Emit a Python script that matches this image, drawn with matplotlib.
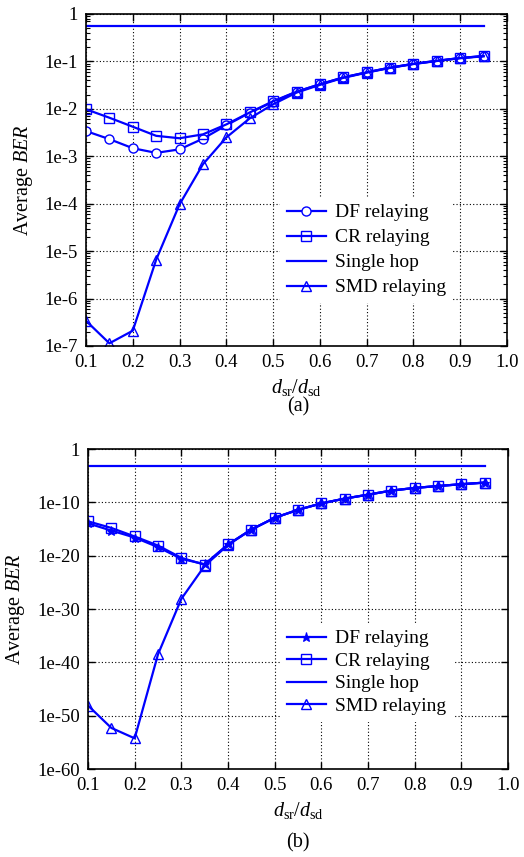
import numpy as np
import matplotlib
matplotlib.use("Agg")
import matplotlib.pyplot as plt
from matplotlib.ticker import FixedLocator, FixedFormatter, LogLocator, NullFormatter, NullLocator

plt.rcParams['font.family'] = ['Liberation Serif', 'DejaVu Serif']
plt.rcParams['mathtext.fontset'] = 'custom'
plt.rcParams['mathtext.rm'] = 'Liberation Serif'
plt.rcParams['mathtext.it'] = 'Liberation Serif:italic'

# ---------------- data ----------------
x = [0.10, 0.15, 0.20, 0.25, 0.30, 0.35, 0.40, 0.45, 0.50, 0.55,
     0.60, 0.65, 0.70, 0.75, 0.80, 0.85, 0.90, 0.95]
x_single = [0.10, 0.95]

# panel (a)
a_df = [3.4e-3, 2.3e-3, 1.48e-3, 1.18e-3, 1.4e-3, 2.35e-3, 4.5e-3, 8.3e-3, 1.4e-2, 2.3e-2,
        3.3e-2, 4.6e-2, 5.9e-2, 7.4e-2, 8.9e-2, 0.103, 0.118, 0.13]
a_cr = [9.8e-3, 6.5e-3, 4.2e-3, 2.7e-3, 2.4e-3, 2.9e-3, 4.7e-3, 8.4e-3, 1.45e-2, 2.3e-2,
        3.3e-2, 4.6e-2, 5.9e-2, 7.4e-2, 8.9e-2, 0.103, 0.118, 0.13]
a_single = [0.55, 0.55]
a_smd = [3.4e-7, 1.14e-7, 2.1e-7, 6.6e-6, 9.7e-5, 6.8e-4, 2.5e-3, 6.3e-3, 1.25e-2, 2.2e-2,
         3.2e-2, 4.5e-2, 5.8e-2, 7.3e-2, 8.8e-2, 0.102, 0.117, 0.128]
a_yticks = [1, 1e-1, 1e-2, 1e-3, 1e-4, 1e-5, 1e-6, 1e-7]
a_ylabels = ["1", "1e-1", "1e-2", "1e-3", "1e-4", "1e-5", "1e-6", "1e-7"]

# panel (b) (log10 values)
b_df_exp = [-13.94, -15.3, -16.6, -18.4, -20.6, -21.6, -17.9, -15.1, -12.9, -11.4,
            -10.2, -9.3, -8.56, -7.8, -7.3, -6.94, -6.6, -6.3]
b_cr_exp = [-13.56, -14.8, -16.4, -18.1, -20.4, -21.7, -17.9, -15.1, -12.9, -11.4,
            -10.2, -9.3, -8.56, -7.8, -7.3, -6.94, -6.6, -6.3]
b_single_exp = [-3.1, -3.1]
b_smd_exp = [-48.1, -52.3, -54.25, -38.5, -28.1, -21.9, -18.0, -15.1, -12.9, -11.4,
             -10.2, -9.3, -8.56, -7.8, -7.3, -6.94, -6.6, -6.3]
b_yticks = [1, 1e-10, 1e-20, 1e-30, 1e-40, 1e-50, 1e-60]
b_ylabels = ["1", "1e-10", "1e-20", "1e-30", "1e-40", "1e-50", "1e-60"]

xticks = [0.1, 0.2, 0.3, 0.4, 0.5, 0.6, 0.7, 0.8, 0.9, 1.0]
xlabels = ["0.1", "0.2", "0.3", "0.4", "0.5", "0.6", "0.7", "0.8", "0.9", "1.0"]
legend_labels = ["DF relaying", "CR relaying", "Single hop", "SMD relaying"]

C = '#0000ff'
FS = 13.5

fig = plt.figure(figsize=(5.24, 8.57), dpi=100)
axa = fig.add_axes([86/524, 1-346/857, 421/524, 332/857])
axb = fig.add_axes([88/524, 1-769/857, 420/524, 320/857])


def style(ax, yticks, ylabels, minor):
    ax.set_yscale('log')
    ax.set_xlim(0.1, 1.0)
    ax.set_ylim(yticks[-1], yticks[0])
    ax.xaxis.set_major_locator(FixedLocator(xticks))
    ax.xaxis.set_major_formatter(FixedFormatter(xlabels))
    ax.yaxis.set_major_locator(FixedLocator(yticks))
    ax.yaxis.set_major_formatter(FixedFormatter(ylabels))
    if minor:
        ax.yaxis.set_minor_locator(LogLocator(base=10, subs=np.arange(2, 10)))
    else:
        ax.yaxis.set_minor_locator(NullLocator())
    ax.yaxis.set_minor_formatter(NullFormatter())
    ax.xaxis.set_minor_locator(NullLocator())
    ax.tick_params(which='both', direction='in', top=True, right=True,
                   labelsize=FS, colors='black', pad=6)
    ax.tick_params(which='major', length=5, width=1)
    ax.tick_params(which='minor', length=3, width=0.8)
    ax.grid(True, which='major', linestyle=(0, (1, 2)), color='black', linewidth=0.8)
    for s in ax.spines.values():
        s.set_linewidth(1.2)
    ax.set_ylabel("Average $\\mathit{BER}$", fontsize=FS + 1, labelpad=7)
    ax.set_xlabel("$d_{\\mathrm{sr}}/d_{\\mathrm{sd}}$", fontsize=FS + 1, labelpad=4)


lw = 1.6
ms = 6.5
# panel (a)
axa.plot(x, a_df, color=C, lw=lw, marker='o', ms=ms, mfc='white', mec=C, mew=1.0, label=legend_labels[0])
axa.plot(x, a_cr, color=C, lw=lw, marker='s', ms=ms, mfc='none', mec=C, mew=1.0, label=legend_labels[1])
axa.plot(x_single, a_single, color=C, lw=lw, label=legend_labels[2])
axa.plot(x, a_smd, color=C, lw=lw, marker='^', ms=ms + 0.5, mfc='none', mec=C, mew=1.0, label=legend_labels[3])
style(axa, a_yticks, a_ylabels, True)
lga = axa.legend(loc='upper left', bbox_to_anchor=(0.461, 0.449), borderaxespad=0, borderpad=0.35,
                 frameon=True, fancybox=False, edgecolor='none', facecolor='white', framealpha=1,
                 fontsize=FS + 0.5, handlelength=2.0, handletextpad=0.5, labelspacing=0.38)

# panel (b)
b_df = [10.0 ** e for e in b_df_exp]
b_cr = [10.0 ** e for e in b_cr_exp]
b_single = [10.0 ** e for e in b_single_exp]
b_smd = [10.0 ** e for e in b_smd_exp]
axb.plot(x, b_df, color=C, lw=lw, marker='*', ms=ms, mfc=C, mec=C, mew=0.8, label=legend_labels[0])
axb.plot(x, b_cr, color=C, lw=lw, marker='s', ms=ms, mfc='none', mec=C, mew=1.0, label=legend_labels[1])
axb.plot(x_single, b_single, color=C, lw=lw, label=legend_labels[2])
axb.plot(x, b_smd, color=C, lw=lw, marker='^', ms=ms + 0.5, mfc='none', mec=C, mew=1.0, label=legend_labels[3])
style(axb, b_yticks, b_ylabels, False)
lgb = axb.legend(loc='upper left', bbox_to_anchor=(0.457, 0.456), borderaxespad=0, borderpad=0.35,
                 frameon=True, fancybox=False, edgecolor='none', facecolor='white', framealpha=1,
                 fontsize=FS + 0.5, handlelength=2.0, handletextpad=0.5, labelspacing=0.25)

fig.text(298/524, 1-407/857, "(a)", ha='center', va='center', fontsize=FS + 1)
fig.text(298/524, 1-843/857, "(b)", ha='center', va='center', fontsize=FS + 1)

fig.savefig("out.png", dpi=100)
